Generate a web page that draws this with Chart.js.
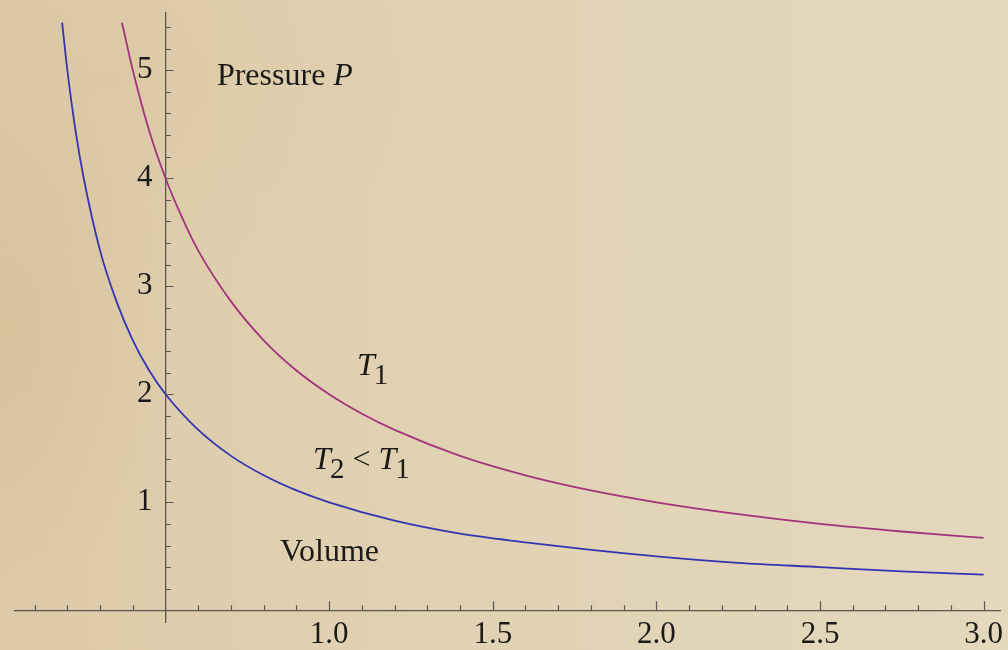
<!DOCTYPE html>
<html>
<head>
<meta charset="utf-8">
<script src="https://cdn.jsdelivr.net/npm/chart.js@4/dist/chart.umd.min.js"></script>
<style>
    html, body {
        margin: 0;
        padding: 0;
    }
    body {
        width: 1008px;
        height: 650px;
        overflow: hidden;
        background:
            radial-gradient(ellipse 160px 260px at 10px 330px, rgba(208, 180, 136, 0.35), rgba(208, 180, 136, 0) 100%),
            radial-gradient(ellipse 300px 200px at 120px 80px, rgba(215, 192, 152, 0.25), rgba(215, 192, 152, 0) 100%),
            linear-gradient(90deg, #dcc9a7 0%, #e0d0b0 30%, #e2d4b7 65%, #e4d8bd 100%);
    }
    #wrap {
        position: relative;
        width: 1008px;
        height: 650px;
    }
</style>
</head>
<body>
<div id="wrap"><canvas id="isoChart"></canvas></div>
<script>
/* =========================
   Data
========================= */
const volumeT1   = [0.367, 0.40, 0.45, 0.50, 0.55, 0.60, 0.70, 0.80, 0.90, 1.00, 1.10, 1.20, 1.40, 1.60, 1.80, 2.00, 2.25, 2.50, 2.75, 3.00];
const pressureT1 = [5.44, 5.00, 4.44, 4.00, 3.64, 3.33, 2.86, 2.50, 2.22, 2.00, 1.82, 1.67, 1.43, 1.25, 1.11, 1.00, 0.89, 0.80, 0.73, 0.67];

const volumeT2   = [0.184, 0.20, 0.225, 0.25, 0.30, 0.35, 0.40, 0.45, 0.50, 0.60, 0.70, 0.80, 0.90, 1.00, 1.20, 1.40, 1.60, 1.80, 2.00, 2.25, 2.50, 2.75, 3.00];
const pressureT2 = [5.44, 5.00, 4.44, 4.00, 3.33, 2.86, 2.50, 2.22, 2.00, 1.67, 1.43, 1.25, 1.11, 1.00, 0.83, 0.71, 0.63, 0.56, 0.50, 0.44, 0.40, 0.36, 0.33];

const xTickLabels = [1.0, 1.5, 2.0, 2.5, 3.0];
const yTickLabels = [1, 2, 3, 4, 5];

/* =========================
   Text labels on the plot
========================= */
const SERIF = "'Liberation Serif', 'DejaVu Serif', serif";
const INK = "#1b1a18";
const AXIS = "#5a5650";

const notes = [
    { x: 0.657, y: 4.86, parts: [["Pressure ", "normal"], ["P", "italic"]] },
    { x: 1.085, y: 2.18, parts: [["T", "italic"], ["1", "sub"]] },
    { x: 0.951, y: 1.31, parts: [["T", "italic"], ["2", "sub"], [" < ", "normal"], ["T", "italic"], ["1", "sub"]] },
    { x: 0.85, y: 0.46, parts: [["Volume", "normal"]] }
];

function toPoints(xs, ys) {
    return xs.map((v, i) => ({ x: v, y: ys[i] }));
}

// axes sit inside the plot, so their labels must not shrink the chart area
function noPadding(scale) {
    scale.paddingLeft = 0;
    scale.paddingRight = 0;
    scale.paddingTop = 0;
    scale.paddingBottom = 0;
}

/* =========================
   Minor / major tick marks pointing inward
========================= */
const tickMarks = {
    id: "tickMarks",
    afterDatasetsDraw(chart) {
        const ctx = chart.ctx;
        const xs = chart.scales.x;
        const ys = chart.scales.y;
        const x0 = xs.getPixelForValue(0.5);
        const y0 = ys.getPixelForValue(0);

        ctx.save();
        ctx.strokeStyle = AXIS;
        ctx.lineWidth = 1.2;
        ctx.beginPath();
        for (let i = 1; i <= 30; i++) {
            if (i === 5) continue;
            const px = Math.round(xs.getPixelForValue(i / 10)) + 0.5;
            const len = i % 5 === 0 ? 9 : 5;
            ctx.moveTo(px, y0);
            ctx.lineTo(px, y0 - len);
        }
        for (let i = 1; i <= 27; i++) {
            const py = Math.round(ys.getPixelForValue(i / 5)) + 0.5;
            const len = i % 5 === 0 ? 8 : 5.5;
            ctx.moveTo(x0, py);
            ctx.lineTo(x0 + len, py);
        }
        ctx.stroke();
        ctx.restore();
    }
};

const plotNotes = {
    id: "plotNotes",
    afterDraw(chart) {
        const ctx = chart.ctx;
        const xs = chart.scales.x;
        const ys = chart.scales.y;

        ctx.save();
        ctx.fillStyle = INK;
        ctx.textBaseline = "alphabetic";
        notes.forEach(n => {
            let px = xs.getPixelForValue(n.x);
            const py = ys.getPixelForValue(n.y);
            n.parts.forEach(([txt, style]) => {
                let dy = 0;
                if (style === "italic") {
                    ctx.font = "italic 32px " + SERIF;
                } else if (style === "sub") {
                    ctx.font = "29px " + SERIF;
                    dy = 9;
                } else {
                    ctx.font = "32px " + SERIF;
                }
                ctx.fillText(txt, px, py + dy);
                px += ctx.measureText(txt).width + (style === "italic" ? -1 : 0);
            });
        });
        ctx.restore();
    }
};

/* =========================
   Chart
========================= */
new Chart(document.getElementById("isoChart"), {
    type: "line",
    data: {
        datasets: [
            {
                label: "T1",
                data: toPoints(volumeT1, pressureT1),
                borderColor: "#a2347c",
                borderWidth: 1.8,
                pointRadius: 0,
                fill: false,
                cubicInterpolationMode: "monotone"
            },
            {
                label: "T2",
                data: toPoints(volumeT2, pressureT2),
                borderColor: "#3434b2",
                borderWidth: 1.8,
                pointRadius: 0,
                fill: false,
                cubicInterpolationMode: "monotone"
            }
        ]
    },
    options: {
        responsive: true,
        maintainAspectRatio: false,
        animation: false,
        layout: {
            padding: { left: 15, right: 8, top: 13, bottom: 28 }
        },
        plugins: {
            legend: { display: false },
            tooltip: { enabled: false }
        },
        scales: {
            x: {
                type: "linear",
                min: 0.04,
                max: 3.05,
                position: { y: 0 },
                afterBuildTicks: axis => {
                    axis.ticks = xTickLabels.map(v => ({ value: v }));
                },
                afterFit: noPadding,
                grid: { display: false, drawTicks: false },
                border: { display: true, color: AXIS, width: 1.3 },
                ticks: {
                    autoSkip: false,
                    maxRotation: 0,
                    padding: 6,
                    color: INK,
                    font: { family: SERIF, size: 31 },
                    callback: v => Number(v).toFixed(1)
                }
            },
            y: {
                type: "linear",
                min: -0.108,
                max: 5.53,
                position: { x: 0.5 },
                afterBuildTicks: axis => {
                    axis.ticks = yTickLabels.map(v => ({ value: v }));
                },
                afterFit: noPadding,
                grid: { display: false, drawTicks: false },
                border: { display: true, color: AXIS, width: 1.3 },
                ticks: {
                    autoSkip: false,
                    color: INK,
                    font: { family: SERIF, size: 31 },
                    // labels are right-aligned on the axis line, keep a gap
                    callback: v => String(v) + " \u2006"
                }
            }
        }
    },
    plugins: [tickMarks, plotNotes]
});
</script>
</body>
</html>
